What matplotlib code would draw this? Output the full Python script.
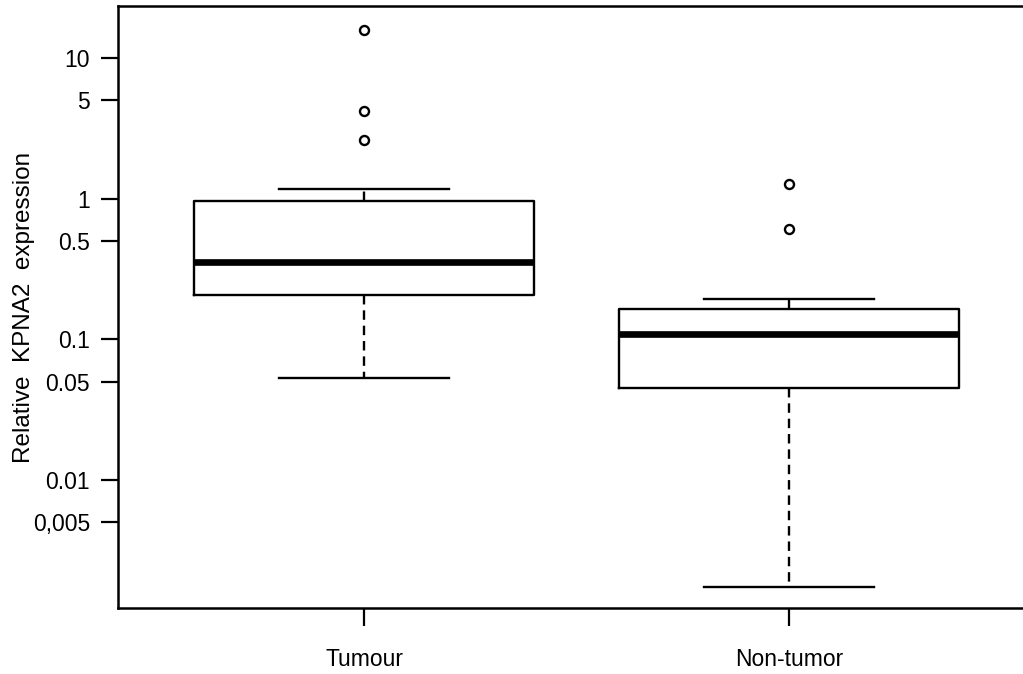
import matplotlib
matplotlib.use("Agg")
import matplotlib.pyplot as plt
from matplotlib.ticker import FixedLocator, NullLocator

plt.rcParams['font.family'] = ['Liberation Sans', 'DejaVu Sans']

groups = ['Tumour', 'Non-tumor']
whis_lo = [0.0532, 0.00174]
q1 = [0.207, 0.0447]
med = [0.355, 0.109]
q3 = [0.964, 0.165]
whis_hi = [1.17, 0.194]
outliers = [[2.61, 4.20, 15.8], [0.609, 1.27]]

yticks = [10, 5, 1, 0.5, 0.1, 0.05, 0.01, 0.005]
ytick_labels = ['10', '5', '1', '0.5', '0.1', '0.05', '0.01', '0,005']

stats = []
for i, name in enumerate(groups):
    stats.append(dict(label=name, whislo=whis_lo[i], q1=q1[i], med=med[i],
                      q3=q3[i], whishi=whis_hi[i], fliers=outliers[i]))

fig = plt.figure(figsize=(10.23, 6.74), dpi=100)
ax = fig.add_axes([118 / 1023, 1 - 608 / 674, (1035 - 118) / 1023, 602 / 674])

ax.bxp(stats, positions=[1, 2], widths=0.8, showfliers=True,
       boxprops=dict(color='black', linewidth=1.7),
       medianprops=dict(color='black', linewidth=4.8, solid_capstyle='butt'),
       whiskerprops=dict(color='black', linewidth=1.7, linestyle=(0, (4, 2.5))),
       capprops=dict(color='black', linewidth=1.7),
       capwidths=0.4,
       flierprops=dict(marker='o', markersize=6.5, markerfacecolor='white',
                       markeredgecolor='black', markeredgewidth=1.7))

ax.set_yscale('log')
ax.set_ylim(0.00123, 23.4)
ax.set_xlim(0.42, 2.58)

ax.yaxis.set_major_locator(FixedLocator(yticks))
ax.set_yticklabels(ytick_labels)
ax.yaxis.set_minor_locator(NullLocator())
ax.set_xticks([1, 2])
ax.set_xticklabels(groups)

ax.tick_params(axis='y', direction='out', length=12, width=1.6, pad=8, labelsize=16.5)
ax.tick_params(axis='x', direction='out', length=13, width=1.6, pad=16, labelsize=16.5)

for side in ['left', 'top', 'bottom', 'right']:
    ax.spines[side].set_linewidth(1.8)

ax.set_ylabel('Relative  KPNA2  expression', fontsize=17.5)
ax.yaxis.set_label_coords(-0.09, 0.5)

fig.savefig('out.png', dpi=100)
